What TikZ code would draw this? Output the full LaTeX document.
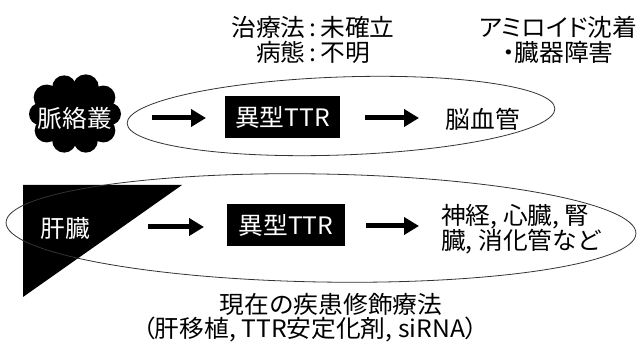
\documentclass[tikz,border=0pt]{standalone}
\usepackage{fontspec}
\setmainfont{Noto Sans CJK JP}[FakeStretch=1.03]
\newfontfamily\paltfont{Noto Sans CJK JP}[RawFeature=+palt,FakeStretch=1.03]
\usetikzlibrary{arrows.meta}
\begin{document}
\begin{tikzpicture}[x=1pt,y=-1pt,
  jp/.style={font=\fontsize{24}{25}\selectfont, inner sep=0pt},
  jppalt/.style={font=\paltfont\fontsize{24}{25}\selectfont, inner sep=0pt},
  darr/.style={line width=5pt,-{Triangle[length=15pt,width=17pt]}},
  blackbox/.style={fill=black,text=white,font=\fontsize{24}{25}\selectfont,minimum height=42pt,inner xsep=7pt},
  oval/.style={draw=black!80,line width=0.8pt},
]
\useasboundingbox (0,0) rectangle (638,344);
% top texts
\node[jp,align=center] (status) at (313,39.5) {治療法\,:\,未確立\\病態\,:\,不明};
\node[jppalt,align=center] (amyloid) at (558,39.5) {アミロイド沈着\\・臓器障害};
% top row: cloud
\fill (75,114) ellipse [x radius=38pt, y radius=31pt];
\foreach \ang/\rad in {0/11,36/12,72/12,108/12,144/12,180/11,216/13,252/12,288/13,324/12}
  \fill ({75+35*cos(\ang)},{114+28*sin(\ang)}) circle [radius=\rad pt];
\node[jp,text=white] (plexus) at (75,118) {脈絡叢};
\draw[oval,rotate around={2:(341,116)}] (341,116) ellipse [x radius=214, y radius=39];
\node[blackbox,minimum width=115pt] (ttr1) at (282.5,117) {異型TTR};
\node[jp] (brain) at (483,119) {脳血管};
\coordinate (a1s) at (152,118); \coordinate (a1e) at (206,118);
\coordinate (a2s) at (365,118); \coordinate (a2e) at (419,118);
\draw[darr] (a1s) -- (a1e);
\draw[darr] (a2s) -- (a2e);
% bottom row
\fill (23,185) -- (182,185) -- (23,297) -- cycle;
\node[jp,text=white] (liver) at (65,228) {肝臓};
\draw[oval,rotate around={-1:(321,228)}] (321,228) ellipse [x radius=315, y radius=54];
\node[blackbox,minimum width=118pt] (ttr2) at (286,225) {異型TTR};
\node[jp,align=left,anchor=west] (organs) at (441,229) {神経, 心臓, 腎\\臓, 消化管など};
\coordinate (a3s) at (148,227); \coordinate (a3e) at (204,227);
\coordinate (a4s) at (366,226); \coordinate (a4e) at (419,226);
\draw[darr] (a3s) -- (a3e);
\draw[darr] (a4s) -- (a4e);
% bottom texts
\node[jp] (dmt) at (331,304) {現在の疾患修飾療法};
\node[jppalt] (dmtlist) at (310,330) {（肝移植, TTR安定化剤, siRNA）};
\end{tikzpicture}
\end{document}
